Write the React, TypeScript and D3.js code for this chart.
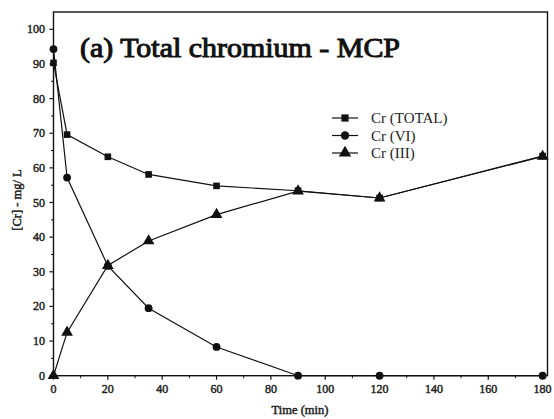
import React from "react";
import * as d3 from "d3";

const times = [0, 5, 20, 35, 60, 90, 120, 180];
const crTotal = [90.3, 69.6, 63.2, 58.1, 54.8, 53.4, 51.3, 63.4];
const crVI = [94.3, 57.2, 31.7, 19.5, 8.3, 0, 0, 0];
const crIII = [0, 12.5, 31.8, 38.9, 46.5, 53.3, 51.3, 63.3];
const xTicks = [0, 20, 40, 60, 80, 100, 120, 140, 160, 180];
const yTicks = [0, 10, 20, 30, 40, 50, 60, 70, 80, 90, 100];
const seriesNames = ["Cr (TOTAL)", "Cr (VI)", "Cr (III)"];

const W = 554, H = 419;
const L = 53.5, R = 547.5, T = 12, B = 375.7;

export default function App() {
  const x = d3.scaleLinear().domain([0, 181.8]).range([L, R]);
  const y = d3.scaleLinear().domain([0, 105]).range([B, T]);
  const line = d3.line<number>().x((_, i) => x(times[i])).y((v) => y(v));
  const font = "Liberation Serif, serif";
  const series = [crTotal, crVI, crIII];
  const shapes = [d3.symbolSquare, d3.symbolCircle, d3.symbolTriangle];
  const sizes = [44, 48, 60];
  const xMinor = d3.range(10, 181, 20);
  const yMinor = d3.range(5, 105, 10);
  const bold = { fontFamily: font, stroke: "#222", strokeWidth: 0.45, fill: "#222" };

  return (
    <svg width={W} height={H} style={{ position: "absolute", left: 0, top: 0, background: "#fff" }}>
      <rect x={0} y={0} width={W} height={H} fill="#fff" />
      {series.map((s, k) => (
        <path key={k} d={line(s) || ""} fill="none" stroke="#111" strokeWidth={1.2} />
      ))}
      {series.map((s, k) =>
        s.map((v, i) => (
          <path
            key={k + "-" + i}
            d={d3.symbol(shapes[k], sizes[k])() || ""}
            transform={`translate(${x(times[i])},${y(v)})`}
            fill="#111"
          />
        ))
      )}
      <rect x={L} y={T} width={R - L} height={B - T} fill="none" stroke="#111" strokeWidth={1.4} />
      {xTicks.map((t) => (
        <g key={t}>
          <line x1={x(t)} x2={x(t)} y1={B} y2={B + 4} stroke="#111" strokeWidth={1.2} />
          <text x={x(t)} y={393} textAnchor="middle" fontSize={12} {...bold}>{t}</text>
        </g>
      ))}
      {xMinor.map((t) => (
        <line key={"xm" + t} x1={x(t)} x2={x(t)} y1={B} y2={B + 2.5} stroke="#111" strokeWidth={1} />
      ))}
      {yTicks.map((t) => (
        <g key={t}>
          <line x1={L - 4} x2={L} y1={y(t)} y2={y(t)} stroke="#111" strokeWidth={1.2} />
          <text x={45} y={y(t) + 4} textAnchor="end" fontSize={12} {...bold}>{t}</text>
        </g>
      ))}
      {yMinor.map((t) => (
        <line key={"ym" + t} x1={L - 2.5} x2={L} y1={y(t)} y2={y(t)} stroke="#111" strokeWidth={1} />
      ))}
      <text x={300} y={414} textAnchor="middle" fontSize={12.5} {...bold}>Time (min)</text>
      <text transform="translate(21,200) rotate(-90)" textAnchor="middle" fontSize={12.5} {...bold}>[Cr] - mg/ L</text>
      <text x={80} y={57} fontSize={27} textLength={320} lengthAdjust="spacingAndGlyphs" fontFamily={font} fill="#111" stroke="#111" strokeWidth={1}>(a) Total chromium - MCP</text>
      {seriesNames.map((n, k) => {
        const ly = 118 + k * 17.5;
        return (
          <g key={n}>
            <line x1={332} x2={358} y1={ly} y2={ly} stroke="#111" strokeWidth={1.2} />
            <path d={d3.symbol(shapes[k], sizes[k] + 8)() || ""} transform={`translate(345,${ly})`} fill="#111" />
            <text x={371} y={ly + 5} fontFamily={font} fontSize={15} fill="#222">{n}</text>
          </g>
        );
      })}
    </svg>
  );
}
